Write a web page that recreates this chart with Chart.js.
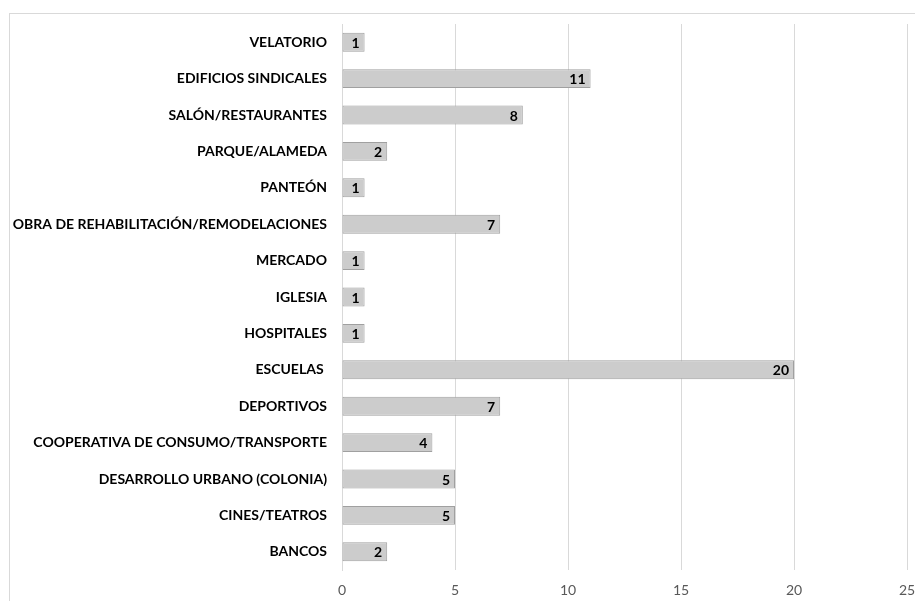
<!DOCTYPE html>
<html>
<head>
<meta charset="utf-8">
<script src="https://cdn.jsdelivr.net/npm/chart.js@4/dist/chart.umd.min.js"></script>
<style>
  html, body { margin: 0; padding: 0; background: #fff; }
  #wrap { position: relative; width: 915px; height: 601px; overflow: hidden; }
  #frame { position: absolute; left: 9px; top: 13px; width: 920px; height: 600px; border: 1px solid #d9d9d9; box-sizing: border-box; }
  canvas { position: absolute; left: 0; top: 0; }
</style>
</head>
<body>
<div id="wrap">
  <div id="frame"></div>
  <canvas id="c" width="915" height="601"></canvas>
</div>
<script>
// Equipamiento por tipo
const categories = [
  "VELATORIO",
  "EDIFICIOS SINDICALES",
  "SALÓN/RESTAURANTES",
  "PARQUE/ALAMEDA",
  "PANTEÓN",
  "OBRA DE REHABILITACIÓN/REMODELACIONES",
  "MERCADO",
  "IGLESIA",
  "HOSPITALES",
  "ESCUELAS ",
  "DEPORTIVOS",
  "COOPERATIVA DE CONSUMO/TRANSPORTE",
  "DESARROLLO URBANO (COLONIA)",
  "CINES/TEATROS",
  "BANCOS"
];
const counts = [1, 11, 8, 2, 1, 7, 1, 1, 1, 20, 7, 4, 5, 5, 2];
const xTicks = [0, 5, 10, 15, 20, 25];

const FONT = "Lato, 'Open Sans', sans-serif";

// Vertical grey gradient for each bar
function barFill(ctx) {
  const el = ctx.element;
  const c = ctx.chart.ctx;
  if (!el || el.y === undefined || el.height === undefined) return "#cccccc";
  const h = Math.abs(el.height) || 18;
  const top = el.y - h / 2;
  const g = c.createLinearGradient(0, top, 0, top + h);
  g.addColorStop(0, "#d2d2d2");
  g.addColorStop(0.3, "#e0e0e0");
  g.addColorStop(1, "#bababa");
  return g;
}

// Value written inside the end of each bar
const valueLabels = {
  id: "valueLabels",
  afterDatasetsDraw(chart) {
    const c = chart.ctx;
    const meta = chart.getDatasetMeta(0);
    c.save();
    c.font = "bold 14px " + FONT;
    c.fillStyle = "#000";
    c.textAlign = "right";
    c.textBaseline = "middle";
    meta.data.forEach((bar, i) => {
      c.fillText(String(counts[i]), bar.x - 5, bar.y + 1);
    });
    c.restore();
  }
};

new Chart(document.getElementById("c"), {
  type: "bar",
  data: {
    labels: categories,
    datasets: [{
      data: counts,
      backgroundColor: barFill,
      borderColor: "#a0a0a0",
      borderWidth: 1,
      borderSkipped: false,
      categoryPercentage: 1,
      barPercentage: 0.52
    }]
  },
  options: {
    indexAxis: "y",
    responsive: false,
    animation: false,
    devicePixelRatio: 1,
    layout: { padding: { top: 24, right: 8, bottom: 0, left: 0 } },
    plugins: { legend: { display: false }, tooltip: { enabled: false } },
    scales: {
      x: {
        min: 0, max: 25,
        afterBuildTicks(axis) { axis.ticks = xTicks.map(v => ({ value: v })); },
        afterFit(axis) { axis.height = 31; axis.paddingLeft = 0; axis.paddingRight = 0; },
        grid: { color: "#d9d9d9", drawTicks: false },
        border: { display: false },
        ticks: { color: "#595959", font: { family: FONT, size: 14 }, padding: 12 }
      },
      y: {
        afterFit(axis) { axis.width = 342; axis.paddingTop = 0; axis.paddingBottom = 0; },
        grid: { display: false, drawTicks: false },
        border: { display: true, color: "#d9d9d9" },
        ticks: { color: "#000", font: { family: FONT, size: 14, weight: "bold" }, padding: 15, autoSkip: false }
      }
    }
  },
  plugins: [valueLabels]
});
</script>
</body>
</html>
